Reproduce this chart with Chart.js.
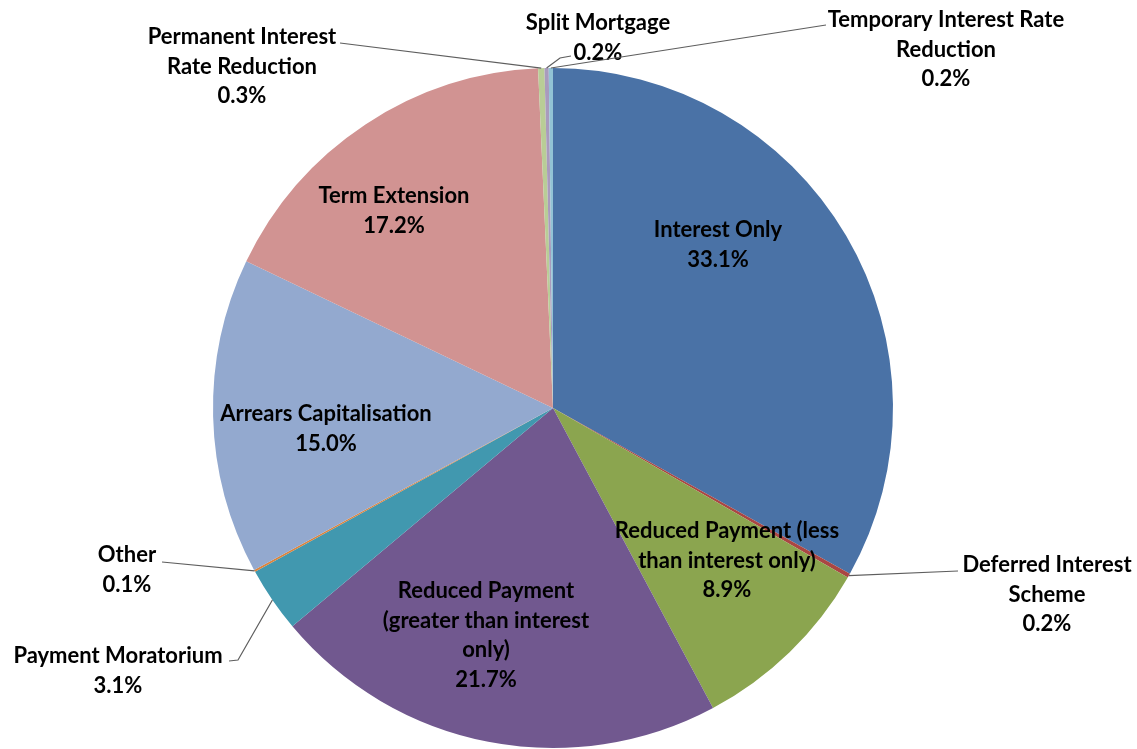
<!DOCTYPE html>
<html>
<head>
<meta charset="utf-8">
<script src="https://cdn.jsdelivr.net/npm/chart.js@4.4.1/dist/chart.umd.min.js"></script>
<style>
  html, body { margin: 0; padding: 0; background: #fff; }
  #wrap { width: 1137px; height: 749px; }
</style>
</head>
<body>
<div id="wrap"><canvas id="c-pie" width="1137" height="749"></canvas></div>
<script>
// Forbearance arrangement types, clockwise from 12 o'clock
const categories = [
  'Interest Only',
  'Deferred Interest Scheme',
  'Reduced Payment (less than interest only)',
  'Reduced Payment (greater than interest only)',
  'Payment Moratorium',
  'Other',
  'Arrears Capitalisation',
  'Term Extension',
  'Permanent Interest Rate Reduction',
  'Split Mortgage',
  'Temporary Interest Rate Reduction',
];
const shares = [33.1, 0.2, 8.9, 21.7, 3.1, 0.1, 15.0, 17.2, 0.3, 0.2, 0.2];
const sliceColors = ['#4A72A6', '#AA4643', '#8BA54F', '#71588F', '#4198AF', '#DB843D',
                     '#93A9CF', '#D19392', '#B9CD96', '#A99BBD', '#92C3D5'];

// Label placement (layout only): text lines, first-line centre, optional leader path
const labelLayout = [
  { lines: ['Interest Only'], x: 718, y: 230 },
  { lines: ['Deferred Interest', 'Scheme'], x: 1047, y: 565, leader: [[958, 571]] },
  { lines: ['Reduced Payment (less', 'than interest only)'], x: 727, y: 531 },
  { lines: ['Reduced Payment', '(greater than interest', 'only)'], x: 486, y: 591 },
  { lines: ['Payment Moratorium'], x: 118, y: 656, leader: [[229, 661], [238, 660]] },
  { lines: ['Other'], x: 127, y: 555, leader: [[162, 562]] },
  { lines: ['Arrears Capitalisation'], x: 326, y: 414 },
  { lines: ['Term Extension'], x: 394, y: 196 },
  { lines: ['Permanent Interest', 'Rate Reduction'], x: 242, y: 37, leader: [[340, 43]] },
  { lines: ['Split Mortgage'], x: 598, y: 23, leader: [[571, 56], [560, 58]] },
  { lines: ['Temporary Interest Rate', 'Reduction'], x: 946, y: 20, leader: [[826, 25]] },
];

const LINE_H = 29.5;

const sliceLabels = {
  id: 'sliceLabels',
  afterDatasetsDraw(chart) {
    const ctx = chart.ctx;
    const meta = chart.getDatasetMeta(0);
    ctx.save();
    meta.data.forEach((arc, i) => {
      const lay = labelLayout[i];
      if (!lay) return;
      const p = arc.getProps(['x', 'y', 'startAngle', 'endAngle', 'outerRadius'], true);
      if (lay.leader) {
        const mid = (p.startAngle + p.endAngle) / 2;
        const ex = p.x + Math.cos(mid) * p.outerRadius;
        const ey = p.y + Math.sin(mid) * p.outerRadius;
        ctx.beginPath();
        ctx.strokeStyle = '#5e5e5e';
        ctx.lineWidth = 1.2;
        lay.leader.forEach((pt, k) => k ? ctx.lineTo(pt[0], pt[1]) : ctx.moveTo(pt[0], pt[1]));
        ctx.lineTo(ex, ey);
        ctx.stroke();
      }
      const lines = lay.lines.concat([shares[i].toFixed(1) + '%']);
      ctx.fillStyle = '#000';
      ctx.font = 'bold 22px Lato, "Open Sans", sans-serif';
      ctx.textAlign = 'center';
      ctx.textBaseline = 'middle';
      lines.forEach((t, k) => ctx.fillText(t, lay.x, lay.y + k * LINE_H));
    });
    ctx.restore();
  }
};

new Chart(document.getElementById('c-pie'), {
  type: 'pie',
  data: {
    labels: categories,
    datasets: [{ data: shares, backgroundColor: sliceColors, borderWidth: 0 }],
  },
  options: {
    responsive: false,
    animation: false,
    layout: { padding: { left: 213, right: 244, top: 68, bottom: 1 } },
    plugins: { legend: { display: false }, tooltip: { enabled: false } },
  },
  plugins: [sliceLabels],
});
</script>
</body>
</html>
